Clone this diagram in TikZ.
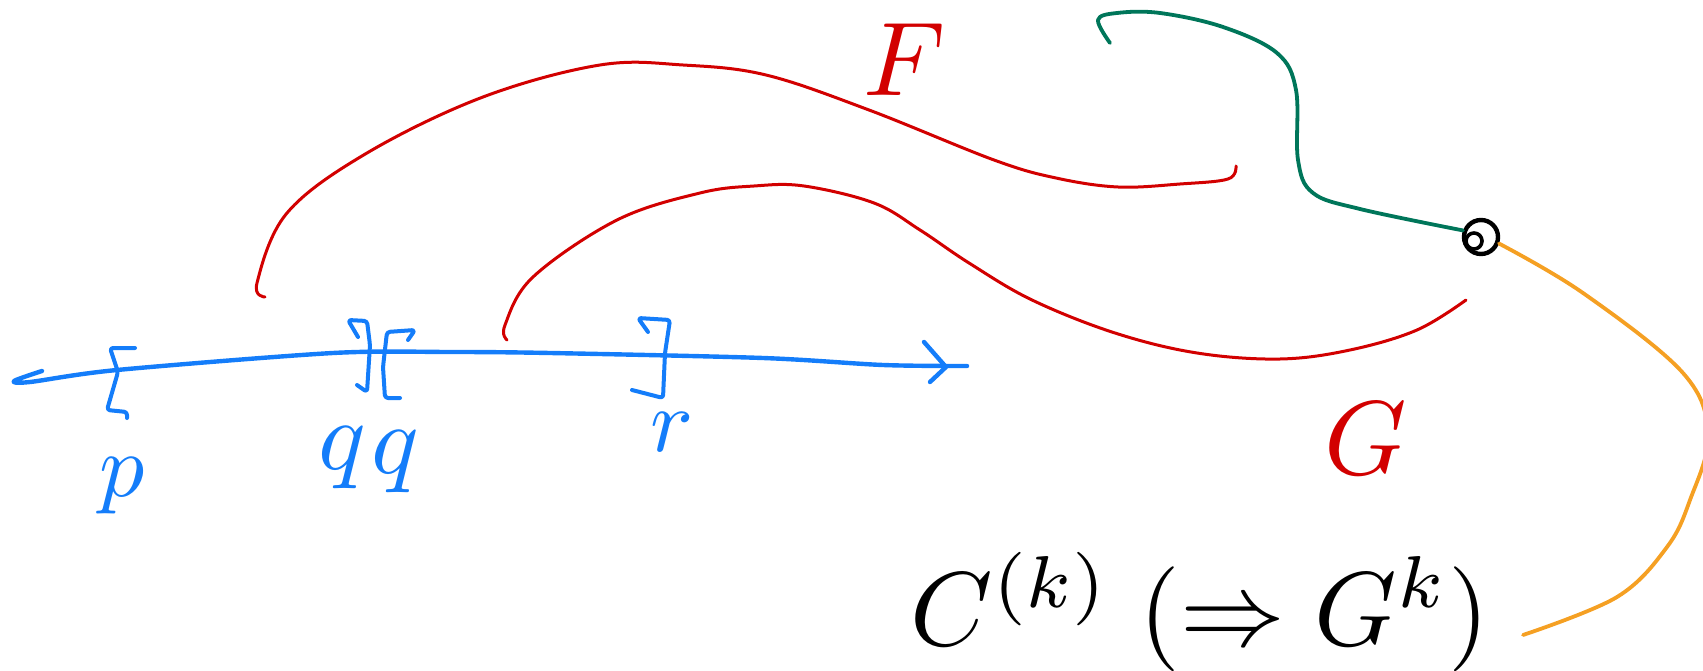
\documentclass[tikz,border=0pt]{standalone}
\definecolor{pblue}{RGB}{20,125,250}
\definecolor{pred}{RGB}{210,0,0}
\definecolor{pgreen}{RGB}{0,118,90}
\definecolor{porange}{RGB}{245,160,35}
\begin{document}
\begin{tikzpicture}[x=1pt,y=-1pt,line cap=round,line join=round,
  axis/.style={pblue,line width=4.4pt},
  bracket/.style={pblue,line width=4pt,rounded corners=3pt},
  redmap/.style={pred,line width=3pt},
  greenmap/.style={pgreen,line width=3.8pt},
  orangemap/.style={porange,line width=3.8pt},
  lab/.style={inner sep=0pt},
  bluelab/.style={lab,pblue,scale=9},
  redlab/.style={lab,pred,scale=10.5},
  blacklab/.style={lab,black,scale=10.5}]
\useasboundingbox (0,0) rectangle (1703,671);
\clip (0,0) rectangle (1703,671);

% ---------- number line ----------
\coordinate (a0) at (42,371);
\coordinate (a1) at (967,366);
\draw[axis] plot[smooth,tension=0.5] coordinates
  {(a0) (14,381) (30,382) (117,370) (333,353) (450,352) (550,353) (763,358) (883,365) (a1)};
\coordinate (tip) at (946,367);
\draw[axis] (924,342) -- (tip) -- (930,382);

% brackets
\draw[bracket] (135,348) -- (110,348) -- (118,372) -- (107,410) -- (127,412) -- (127,418);
\draw[bracket] (358,337) -- (348,320) -- (367,321) -- (370,345) -- (367,392) -- (357,385);
\draw[bracket] (408,340) -- (415,330) -- (387,332) -- (383,367) -- (385,398) -- (400,398);
\draw[bracket] (648,332) -- (638,318) -- (670,320) -- (665,353) -- (663,398) -- (632,390);

% labels on the line
\node[bluelab] (p) at (122,486) {$p$};
\node[bluelab,scale=1.1] (q1) at (342,458) {$q$};
\node[bluelab,scale=1.1] (q2) at (395,462) {$q$};
\node[bluelab] (r) at (672,432) {$r$};

% ---------- map F ----------
\coordinate (f0) at (265,297);
\coordinate (f1) at (1236,166);
\draw[redmap] plot[smooth,tension=0.6] coordinates
  {(f0) (257,283) (287,213) (367,153) (483,97) (600,65) (683,65) (766,75)
   (869,110) (994,160) (1056,178) (1118,187) (1180,184) (1228,179) (f1)};
\node[redlab] (F) at (905,60) {$F$};

% ---------- map G ----------
\coordinate (g0) at (507,340);
\coordinate (g1) at (1466,300);
\draw[redmap] plot[smooth,tension=0.6] coordinates
  {(g0) (505,325) (533,277) (617,220) (700,193) (754,186) (804,186) (874,203)
   (920,230) (969,263) (1032,300) (1115,333) (1197,353) (1280,359) (1350,350)
   (1417,330) (g1)};
\node[redlab] (G) at (1366,439) {$G$};

% ---------- point ----------
\node[draw=black,line width=4.4pt,circle,minimum size=34pt,inner sep=0pt] (pt) at (1481,237) {};
\draw[black,line width=3.6pt] (1474,241) circle[radius=8];

% ---------- green curve ----------
\coordinate (h0) at (1110,43);
\draw[greenmap] plot[smooth,tension=0.6] coordinates
  {(h0) (1098,20) (1117,13) (1160,13) (1223,27) (1277,53) (1296,90) (1298,160)
   (1313,193) (1360,209) (pt.160)};

% ---------- orange curve ----------
\coordinate (o1) at (1523,635);
\draw[orangemap] plot[smooth,tension=0.6] coordinates
  {(pt.-20) (1583,293) (1683,373) (1708,435) (1690,500) (1667,547) (1617,597) (o1)};

% ---------- formula ----------
\node[blacklab] (form) at (1200,612) {$C^{(k)}\;(\Rightarrow G^{k})$};
\end{tikzpicture}
\end{document}
